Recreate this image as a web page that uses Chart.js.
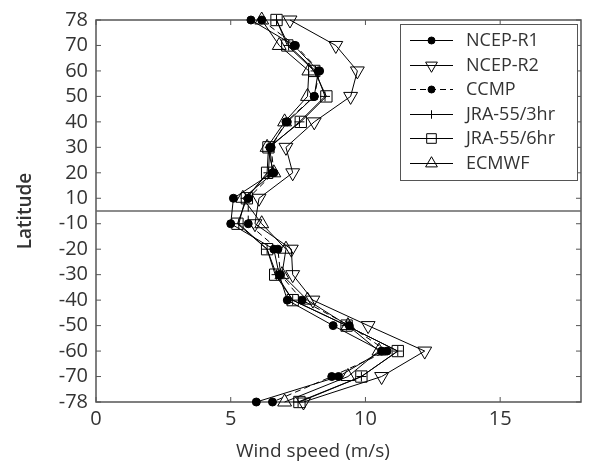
<!DOCTYPE html>
<html>
<head>
<meta charset="utf-8">
<script src="https://cdn.jsdelivr.net/npm/chart.js@4/dist/chart.umd.min.js"></script>
<style>
  html, body { margin: 0; padding: 0; background: #fff; }
  #wrap { width: 590px; height: 466px; }
</style>
</head>
<body>
<div id="wrap"><canvas id="windChart" width="590" height="466"></canvas></div>
<script>
// ---- data ----
const LATS = [78, 70, 60, 50, 40, 30, 20, 10, -10, -20, -30, -40, -50, -60, -70, -78];
const NCEP_R1   = [5.75, 7.35, 8.25, 8.1, 7.1, 6.45, 6.55, 5.1, 5.0, 6.6, 6.8, 7.1, 8.8, 10.6, 9.0, 5.95];
const NCEP_R2   = [7.2, 8.9, 9.7, 9.45, 8.1, 7.05, 7.3, 6.05, 5.9, 7.25, 7.3, 8.05, 10.1, 12.2, 10.6, 7.7];
const CCMP      = [6.15, 7.4, 8.3, 8.1, 7.05, 6.5, 6.6, 5.65, 5.65, 6.75, 6.85, 7.65, 9.4, 10.8, 8.75, 6.55];
const JRA55_3HR = [6.7, 7.15, 8.15, 8.5, 7.55, 6.45, 6.4, 5.55, 5.3, 6.35, 6.7, 7.3, 9.3, 11.2, 9.85, 7.5];
const JRA55_6HR = [6.7, 7.1, 8.1, 8.55, 7.6, 6.4, 6.35, 5.6, 5.25, 6.35, 6.65, 7.3, 9.3, 11.2, 9.85, 7.55];
const ECMWF     = [6.15, 6.8, 7.9, 7.85, 7.0, 6.35, 6.6, 5.45, 6.15, 7.05, 6.9, 7.85, 9.35, 10.5, 9.35, 7.0];
const X_TICKS = [0, 5, 10, 15];
const X_MIN = 0, X_MAX = 18;

const FONT = '"Open Sans", "DejaVu Sans", sans-serif';
const TXT = '#333';
const FRAME = '#555';

// equal spacing per latitude band; equator sits between 10 and -10
function latPos(lat) { return Math.sign(lat) * (Math.ceil(Math.abs(lat) / 10) - 0.5); }
function pts(vals) { return vals.map((v, i) => ({ x: v, y: latPos(LATS[i]) })); }

const series = [
  { label: 'NCEP-R1',    data: NCEP_R1,   style: 'circle',   r: 4,   fill: '#000', rot: 0,   dash: [] },
  { label: 'NCEP-R2',    data: NCEP_R2,   style: 'triangle', r: 8,   fill: 'rgba(0,0,0,0)', rot: 180, dash: [] },
  { label: 'CCMP',       data: CCMP,      style: 'circle',   r: 4,   fill: '#000', rot: 0,   dash: [6, 4] },
  { label: 'JRA-55/3hr', data: JRA55_3HR, style: 'cross',    r: 5,   fill: 'rgba(0,0,0,0)', rot: 0,   dash: [] },
  { label: 'JRA-55/6hr', data: JRA55_6HR, style: 'rect',     r: 8,   fill: 'rgba(0,0,0,0)', rot: 0,   dash: [] },
  { label: 'ECMWF',      data: ECMWF,     style: 'triangle', r: 8,   fill: 'rgba(0,0,0,0)', rot: 0,   dash: [] }
];

const datasets = series.map(s => ({
  label: s.label,
  data: pts(s.data),
  borderColor: '#000',
  borderWidth: 1,
  borderDash: s.dash,
  pointStyle: s.style,
  pointRadius: s.r,
  pointRotation: s.rot,
  pointBackgroundColor: s.fill,
  pointBorderColor: '#000',
  pointBorderWidth: 1,
  showLine: true,
  tension: 0,
  clip: false
}));

// equator divider
datasets.push({
  label: '_equator',
  data: [{ x: X_MIN, y: 0 }, { x: X_MAX, y: 0 }],
  borderColor: '#666',
  borderWidth: 1.5,
  pointRadius: 0,
  showLine: true
});

// frame + inward ticks + custom legend + axis titles
const decorPlugin = {
  id: 'decor',
  beforeDatasetsDraw(chart) {
    const { ctx, chartArea: a, scales } = chart;
    const xs = scales.x, ys = scales.y;
    ctx.save();
    ctx.strokeStyle = FRAME;
    ctx.lineWidth = 1.5;
    ctx.strokeRect(a.left, a.top, a.right - a.left, a.bottom - a.top);
    ctx.lineWidth = 1;
    const tl = 5;
    X_TICKS.forEach(v => {
      const px = xs.getPixelForValue(v);
      ctx.beginPath();
      ctx.moveTo(px, a.bottom); ctx.lineTo(px, a.bottom - tl);
      ctx.moveTo(px, a.top); ctx.lineTo(px, a.top + tl);
      ctx.stroke();
    });
    LATS.forEach(l => {
      const py = ys.getPixelForValue(latPos(l));
      ctx.beginPath();
      ctx.moveTo(a.left, py); ctx.lineTo(a.left + tl, py);
      ctx.moveTo(a.right, py); ctx.lineTo(a.right - tl, py);
      ctx.stroke();
    });
    ctx.restore();
  },
  afterDraw(chart) {
    const { ctx, chartArea: a } = chart;
    ctx.save();
    // legend
    const bx = 400, by = 24, bw = 177, bh = 156;
    ctx.fillStyle = '#fff';
    ctx.fillRect(bx, by, bw, bh);
    ctx.strokeStyle = FRAME;
    ctx.lineWidth = 1;
    ctx.strokeRect(bx + 0.5, by + 0.5, bw, bh);
    ctx.font = '18px ' + FONT;
    ctx.textBaseline = 'middle';
    ctx.textAlign = 'left';
    series.forEach((s, i) => {
      const y = Math.round(by + 16 + i * 24.6) + 0.5;
      ctx.strokeStyle = '#000';
      ctx.lineWidth = 1;
      ctx.setLineDash(s.dash);
      ctx.beginPath();
      ctx.moveTo(410, y); ctx.lineTo(453, y);
      ctx.stroke();
      ctx.setLineDash([]);
      ctx.fillStyle = s.fill;
      Chart.helpers.drawPoint(ctx, {
        pointStyle: s.style,
        radius: s.style === 'circle' ? 3.5 : s.r * 0.85,
        rotation: s.rot,
        borderWidth: 1
      }, 431.5, y);
      ctx.fillStyle = TXT;
      ctx.fillText(s.label, 466, y);
    });

    // axis titles
    ctx.fillStyle = TXT;
    ctx.font = '19px ' + FONT;
    ctx.textAlign = 'center';
    ctx.textBaseline = 'alphabetic';
    ctx.fillText('Wind speed (m/s)', 313, 457);
    ctx.save();
    ctx.translate(31, (a.top + a.bottom) / 2);
    ctx.rotate(-Math.PI / 2);
    ctx.font = '600 19px ' + FONT;
    ctx.fillText('Latitude', 0, 0);
    ctx.restore();
    ctx.restore();
  }
};

new Chart(document.getElementById('windChart').getContext('2d'), {
  type: 'scatter',
  data: { datasets },
  options: {
    responsive: false,
    animation: false,
    layout: { padding: { top: 16, right: 8, left: 0, bottom: 0 } },
    plugins: { legend: { display: false }, tooltip: { enabled: false } },
    scales: {
      x: {
        type: 'linear', min: X_MIN, max: X_MAX,
        afterBuildTicks: sc => { sc.ticks = X_TICKS.map(v => ({ value: v })); },
        afterFit: sc => { sc.height = 64; },
        grid: { display: false, drawTicks: false },
        border: { display: false },
        ticks: { color: TXT, font: { family: FONT, size: 20 }, padding: 5, maxRotation: 0, autoSkip: false }
      },
      y: {
        type: 'linear', min: -7.5, max: 7.5,
        afterBuildTicks: sc => { sc.ticks = LATS.map(l => ({ value: latPos(l) })); },
        afterFit: sc => { sc.width = 96; },
        grid: { display: false, drawTicks: false },
        border: { display: false },
        ticks: {
          color: TXT, font: { family: FONT, size: 20 }, padding: 8, autoSkip: false,
          callback: v => { const i = LATS.findIndex(l => latPos(l) === v); return i >= 0 ? String(LATS[i]) : ''; }
        }
      }
    }
  },
  plugins: [decorPlugin]
});
</script>
</body>
</html>
